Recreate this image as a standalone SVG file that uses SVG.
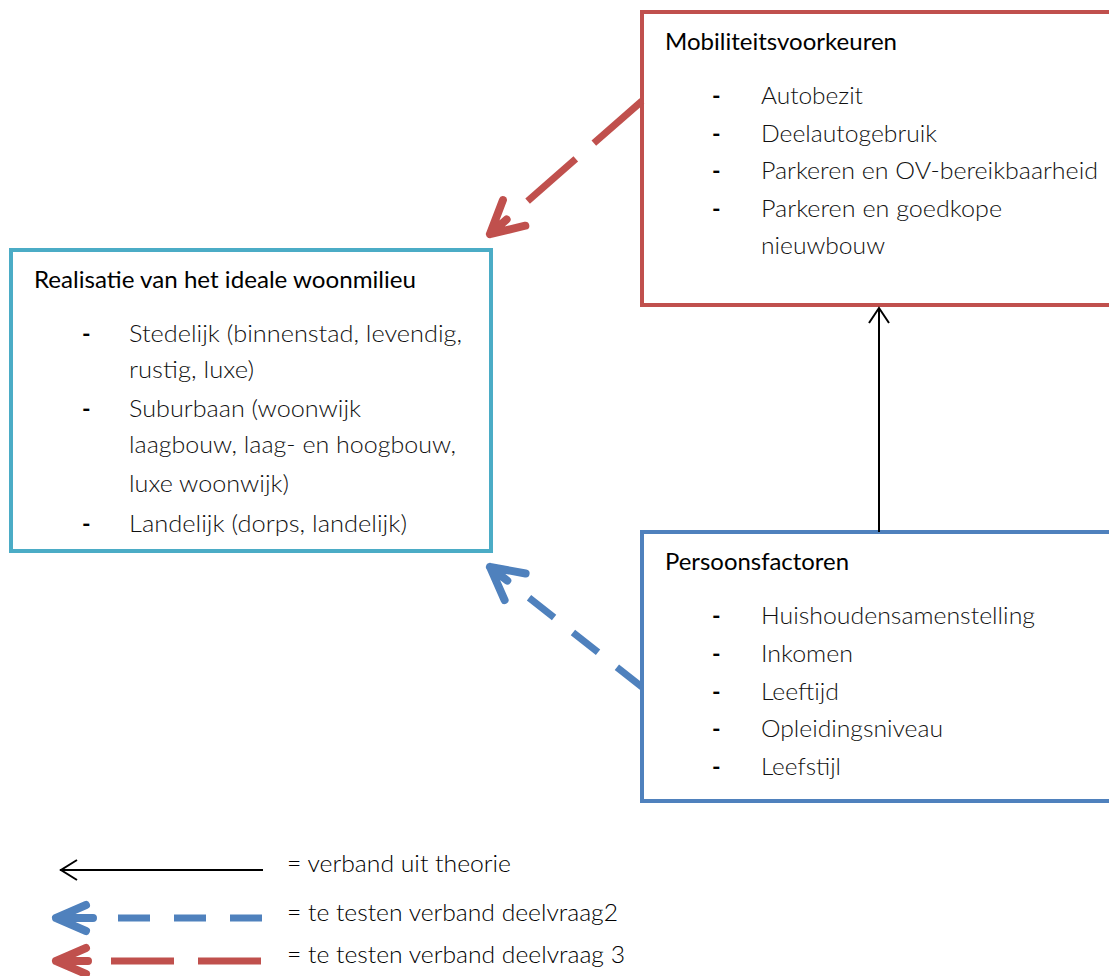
<svg xmlns="http://www.w3.org/2000/svg" width="1109" height="976" viewBox="0 0 1109 976">
<style>
  .box { fill: #FFFFFF; stroke-width: 4; }
  .title { font-family: Lato, "Liberation Sans", sans-serif; font-size: 23px; fill: #000000; }
  .item { font-family: Lato, "Liberation Sans", sans-serif; font-size: 23px; font-weight: 300; fill: #111111; }
  .dash { font-family: Lato, "Liberation Sans", sans-serif; font-size: 23px; font-weight: 700; fill: #000000; }
  .legend { font-family: Lato, "Liberation Sans", sans-serif; font-size: 23px; font-weight: 300; fill: #000000; }
  .thin { fill: none; stroke: #000000; stroke-width: 2; }
  .red { fill: none; stroke: #C0504D; stroke-width: 7; }
  .blue { fill: none; stroke: #4F81BD; stroke-width: 7; }
  .head { stroke-linecap: round; stroke-linejoin: round; stroke-width: 8; }
</style>
<rect width="1109" height="976" fill="#FFFFFF"/>

<g id="node-mobiliteit">
  <rect class="box" x="642" y="12" width="480" height="293" stroke="#C0504D"/>
  <text class="title" x="665" y="50" textLength="232" lengthAdjust="spacingAndGlyphs">Mobiliteitsvoorkeuren</text>
  <text class="dash" x="712" y="104">-</text>
  <text class="item" x="761" y="104" textLength="102" lengthAdjust="spacingAndGlyphs">Autobezit</text>
  <text class="dash" x="712" y="142">-</text>
  <text class="item" x="761" y="142" textLength="176" lengthAdjust="spacingAndGlyphs">Deelautogebruik</text>
  <text class="dash" x="712" y="179">-</text>
  <text class="item" x="761" y="179" textLength="337" lengthAdjust="spacingAndGlyphs">Parkeren en OV-bereikbaarheid</text>
  <text class="dash" x="712" y="217">-</text>
  <text class="item" x="761" y="217" textLength="241" lengthAdjust="spacingAndGlyphs">Parkeren en goedkope</text>
  <text class="item" x="761" y="254" textLength="124" lengthAdjust="spacingAndGlyphs">nieuwbouw</text>
</g>

<g id="node-woonmilieu">
  <rect class="box" x="11" y="250" width="480" height="301" stroke="#4BACC6"/>
  <text class="title" x="34" y="288" textLength="382" lengthAdjust="spacingAndGlyphs">Realisatie van het ideale woonmilieu</text>
  <text class="dash" x="82" y="342">-</text>
  <text class="item" x="129" y="342" textLength="333" lengthAdjust="spacingAndGlyphs">Stedelijk (binnenstad, levendig,</text>
  <text class="item" x="129" y="378" textLength="125" lengthAdjust="spacingAndGlyphs">rustig, luxe)</text>
  <text class="dash" x="82" y="417">-</text>
  <text class="item" x="129" y="417" textLength="232" lengthAdjust="spacingAndGlyphs">Suburbaan (woonwijk</text>
  <text class="item" x="129" y="453" textLength="327" lengthAdjust="spacingAndGlyphs">laagbouw, laag- en hoogbouw,</text>
  <text class="item" x="129" y="492" textLength="160" lengthAdjust="spacingAndGlyphs">luxe woonwijk)</text>
  <text class="dash" x="82" y="532">-</text>
  <text class="item" x="129" y="532" textLength="278" lengthAdjust="spacingAndGlyphs">Landelijk (dorps, landelijk)</text>
</g>

<g id="node-persoonsfactoren">
  <rect class="box" x="642" y="532" width="480" height="269" stroke="#4F81BD"/>
  <text class="title" x="665" y="570" textLength="184" lengthAdjust="spacingAndGlyphs">Persoonsfactoren</text>
  <text class="dash" x="712" y="624">-</text>
  <text class="item" x="761" y="624" textLength="274" lengthAdjust="spacingAndGlyphs">Huishoudensamenstelling</text>
  <text class="dash" x="712" y="662">-</text>
  <text class="item" x="761" y="662" textLength="92" lengthAdjust="spacingAndGlyphs">Inkomen</text>
  <text class="dash" x="712" y="700">-</text>
  <text class="item" x="761" y="700" textLength="78" lengthAdjust="spacingAndGlyphs">Leeftijd</text>
  <text class="dash" x="712" y="737">-</text>
  <text class="item" x="761" y="737" textLength="182" lengthAdjust="spacingAndGlyphs">Opleidingsniveau</text>
  <text class="dash" x="712" y="775">-</text>
  <text class="item" x="761" y="775" textLength="80" lengthAdjust="spacingAndGlyphs">Leefstijl</text>
</g>

<g id="connectors">
  <!-- theory: Persoonsfactoren -> Mobiliteitsvoorkeuren -->
  <path class="thin" d="M879 532 L879 308"/>
  <path class="thin" d="M869 323 L879 308 L889 323"/>
  <!-- deelvraag 3: Mobiliteit -> Woonmilieu -->
  <path class="red" d="M642 101 L527.6 201.1" stroke-dasharray="64 24"/>
  <path class="red head" d="M525.3 225.7 L490 234 L502.9 200.1 M490 234 L506.6 219.5"/>
  <!-- deelvraag 2: Persoonsfactoren -> Woonmilieu -->
  <path class="blue" d="M642 687 L529 597.8" stroke-dasharray="32 24"/>
  <path class="blue head" d="M525.6 573.5 L490 567 L504.6 600.1 M490 567 L507.3 580.6"/>
</g>

<g id="legend">
  <path class="thin" d="M60 870 L263 870"/>
  <path class="thin" d="M77 860 L61 870 L77 880"/>
  <text class="legend" x="287" y="872" textLength="224" lengthAdjust="spacingAndGlyphs">= verband uit theorie</text>

  <path class="blue" d="M118 918 L263 918" stroke-dasharray="32 24"/>
  <path class="blue head" d="M86 905 L56 918 L86 931 M56 918 L93 918"/>
  <text class="legend" x="287" y="921" textLength="331" lengthAdjust="spacingAndGlyphs">= te testen verband deelvraag2</text>

  <path class="red" d="M111 961 L263 961" stroke-dasharray="63 24"/>
  <path class="red head" d="M86 948 L56 961 L86 974 M56 961 L88 961"/>
  <text class="legend" x="287" y="963" textLength="338" lengthAdjust="spacingAndGlyphs">= te testen verband deelvraag 3</text>
</g>
</svg>
